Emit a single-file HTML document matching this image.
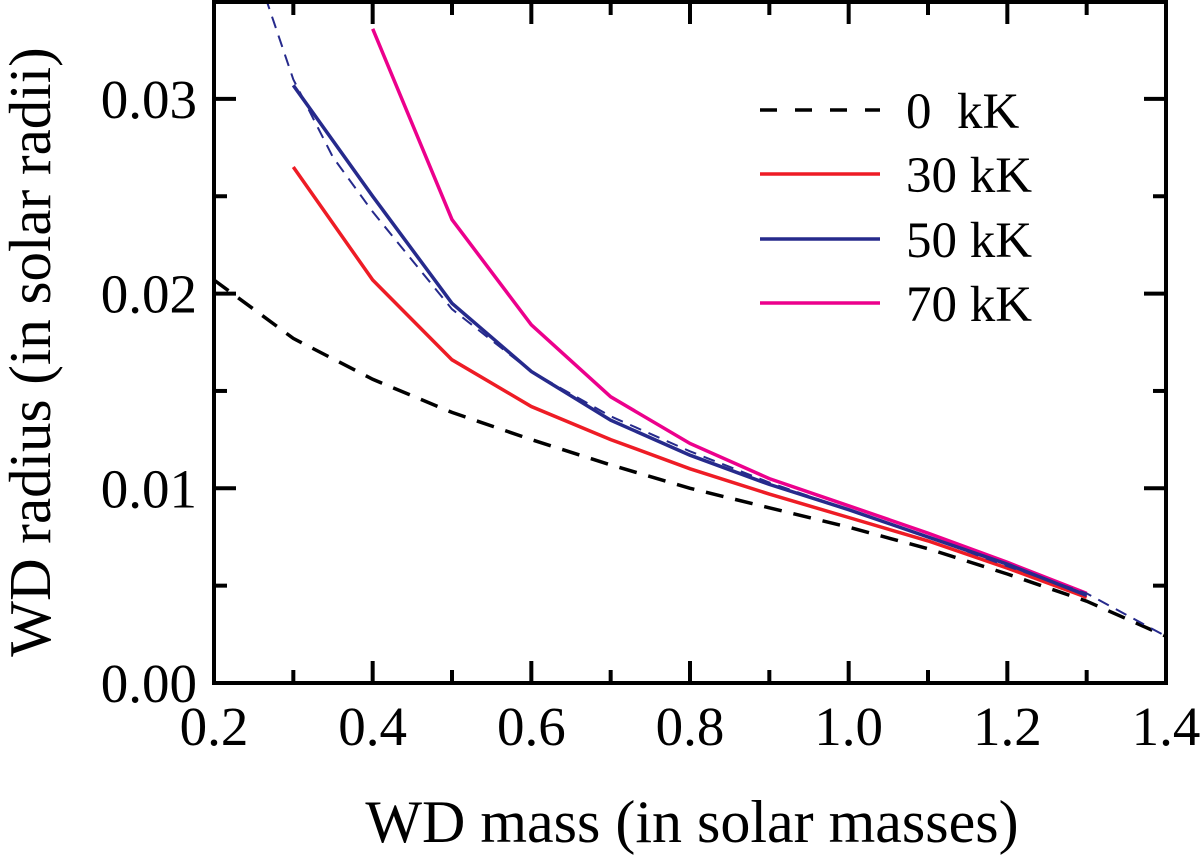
<!DOCTYPE html>
<html><head><meta charset="utf-8"><style>
html,body{margin:0;padding:0;background:#fff;width:1200px;height:860px;overflow:hidden}
text{font-family:"Liberation Serif",serif;fill:#000}
</style></head><body>
<svg id="chart" width="1200" height="860" viewBox="0 0 1200 860" xmlns="http://www.w3.org/2000/svg"></svg>
<script>
const masses = [0.2,0.3,0.4,0.5,0.6,0.7,0.8,0.9,1.0,1.1,1.2,1.3,1.4];
const r0 = [0.0207,0.0177,0.0156,0.0139,0.0125,0.0112,0.0100,0.0090,0.0080,0.0069,0.0056,0.0042,0.0024];
const m30 = [0.3,0.4,0.5,0.6,0.7,0.8,0.9,1.0,1.1,1.2,1.3];
const r30 = [0.0265,0.0207,0.0166,0.0142,0.0125,0.0110,0.0097,0.0085,0.0073,0.0059,0.0044];
const r50 = [0.0307,0.0250,0.0195,0.0160,0.0135,0.0117,0.0102,0.0089,0.0075,0.0061,0.0045];
const m70 = [0.4,0.5,0.6,0.7,0.8,0.9,1.0,1.1,1.2,1.3];
const r70 = [0.0336,0.0238,0.0184,0.0147,0.0123,0.0105,0.0091,0.0077,0.0062,0.0046];
const mFit = [0.265,0.3,0.35,0.4,0.5,0.6,0.7,0.8,0.9,1.0,1.1,1.2,1.3,1.4];
const rFit = [0.0352,0.0310,0.0270,0.0242,0.0192,0.0160,0.0137,0.0119,0.0103,0.0089,0.0075,0.0060,0.0046,0.0024];
const xTicks = ["0.2","0.4","0.6","0.8","1.0","1.2","1.4"];
const yTicks = ["0.00","0.01","0.02","0.03"];
const legendLabels = ["0  kK","30 kK","50 kK","70 kK"];

const X0=214,X1=1166,Y0=683,Y1=2;
const sx = m => X0 + (m-0.2)/1.2*(X1-X0);
const sy = r => Y0 - r/0.01*194.7;
const svg = document.getElementById('chart');
const NS='http://www.w3.org/2000/svg';
function mk(tag,attrs){const e=document.createElementNS(NS,tag);for(const k in attrs)e.setAttribute(k,attrs[k]);svg.appendChild(e);return e;}

const defs=mk('clipPath',{id:'clip'});
const cr=document.createElementNS(NS,'rect');
cr.setAttribute('x',X0);cr.setAttribute('y',Y1);cr.setAttribute('width',X1-X0);cr.setAttribute('height',Y0-Y1);
defs.appendChild(cr);

function line(xs,ys,color,w,dash,name){
  const p=xs.map((m,i)=>(i?'L':'M')+sx(m).toFixed(1)+','+sy(ys[i]).toFixed(1)).join('');
  const e=mk('path',{d:p,fill:'none',stroke:color,'stroke-width':w,'clip-path':'url(#clip)'});
  if(dash)e.setAttribute('stroke-dasharray',dash);
  
  
}
line(masses,r0,'#000',3.5,'18,12','series-0kk');
line(m30,r30,'#ee1c25',3.5,null,'series-30kk');
line(m70,r70,'#ec008c',3.5,null,'series-70kk');
line(m30,r50,'#262a8c',3.5,null,'series-50kk');
line(mFit,rFit,'#262a8c',2,'12,8','series-fit-curve');

const fr=mk('rect',{x:X0,y:Y1,width:X1-X0,height:Y0-Y1,fill:'none',stroke:'#000','stroke-width':4});



for(let i=0;i<=12;i++){
  const m=0.2+i*0.1, x=sx(m), L=(i%2===0)?22:13;
  mk('line',{x1:x,y1:Y0,x2:x,y2:Y0-L,stroke:'#000','stroke-width':4});
  mk('line',{x1:x,y1:Y1,x2:x,y2:Y1+L,stroke:'#000','stroke-width':4});
}
xTicks.forEach((t,i)=>{
  const e=mk('text',{x:sx(parseFloat(t)),y:745,'font-size':55,'text-anchor':'middle'});
  e.textContent=t;
  
  
});
for(let i=0;i<=7;i++){
  const r=i*0.005, y=sy(r), L=(i%2===0)?22:13;
  if(y<Y1)continue;
  mk('line',{x1:X0,y1:y,x2:X0+L,y2:y,stroke:'#000','stroke-width':4});
  mk('line',{x1:X1,y1:y,x2:X1-L,y2:y,stroke:'#000','stroke-width':4});
}
yTicks.forEach(t=>{
  const e=mk('text',{x:197,y:sy(parseFloat(t))+19,'font-size':55,'text-anchor':'end'});
  e.textContent=t;
  
  
});
const xt=mk('text',{x:692,y:842,'font-size':60,'text-anchor':'middle'});
xt.textContent='WD mass (in solar masses)';


const yt=mk('text',{x:0,y:0,'font-size':59,'text-anchor':'middle',transform:'translate(50,352) rotate(-90)'});
yt.textContent='WD radius (in solar radii)';



const lc=['#000','#ee1c25','#262a8c','#ec008c'];
const ly=[110,174,239,303];
legendLabels.forEach((t,i)=>{
  const l=mk('line',{x1:760,y1:ly[i],x2:880,y2:ly[i],stroke:lc[i],'stroke-width':3.5});
  if(i===0)l.setAttribute('stroke-dasharray','17,18');
  
  
  const e=mk('text',{x:906,y:ly[i]+18,'font-size':51});
  e.setAttribute('xml:space','preserve');
  e.style.whiteSpace='pre';
  e.textContent=t;
  
  
});
</script>
</body></html>
